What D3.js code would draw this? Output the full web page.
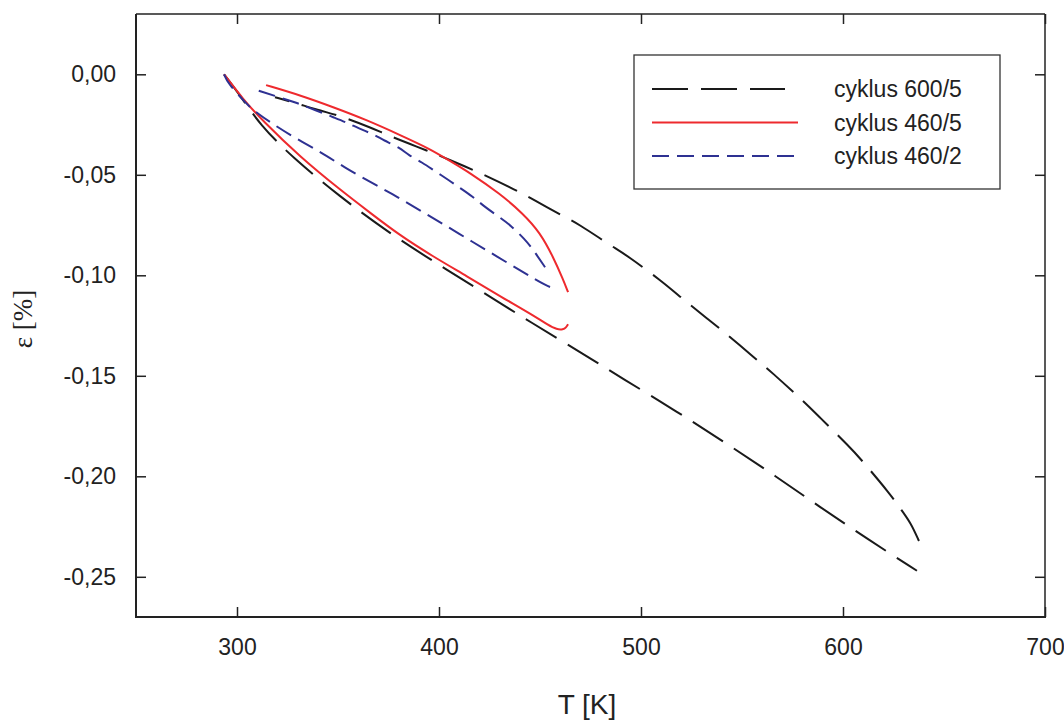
<!DOCTYPE html>
<html><head><meta charset="utf-8">
<script src="https://cdn.jsdelivr.net/npm/d3@7"></script>
<style>body{margin:0;background:#fff}svg{display:block}</style>
</head><body>
<svg id="c" width="1064" height="721"></svg>
<script>
// ---- data (T [K], epsilon [%]) ----
const seriesNames = ["cyklus 600/5", "cyklus 460/5", "cyklus 460/2"];
const xTicks = [300, 400, 500, 600, 700];
const yTicks = [0, -0.05, -0.10, -0.15, -0.20, -0.25];

const black600Heat = [[293.6,0],[301.5,-0.0104],[311.4,-0.0252],[327.2,-0.0411],[351.0,-0.0609],[374.3,-0.0782],[398.0,-0.0936],[421.8,-0.1084],[446.0,-0.1238],[469.8,-0.1381],[491.1,-0.1515],[517.8,-0.1678],[541.6,-0.1832],[565.3,-0.1990],[588.6,-0.2153],[612.9,-0.2317],[636.6,-0.2470]];
const black600Cool = [[637.6,-0.2322],[633.5,-0.2230],[628.2,-0.2158],[623.8,-0.2094],[609.4,-0.1921],[603.5,-0.1856],[587.1,-0.1693],[580.7,-0.1629],[563.9,-0.1475],[557.4,-0.1421],[540.6,-0.1277],[533.7,-0.1223],[520.8,-0.1119],[510.4,-0.1030],[493.1,-0.0901],[485.6,-0.0856],[468.8,-0.0743],[461.9,-0.0708],[445.0,-0.0614],[438.6,-0.0579],[421.3,-0.0495],[414.4,-0.0465],[397.0,-0.0391],[390.6,-0.0366],[374.3,-0.0302],[366.8,-0.0267],[350.0,-0.0203],[342.6,-0.0185],[327.7,-0.0139],[318.8,-0.0114]];

const red460Heat = [[293.6,0],[303.0,-0.0124],[312.4,-0.0228],[331.2,-0.0411],[351.0,-0.0574],[365.8,-0.0688],[380.7,-0.0802],[397.0,-0.0906],[413.9,-0.1005],[430.2,-0.1104],[446.5,-0.1198],[454.0,-0.1248],[458.4,-0.1270],[461.4,-0.1270],[462.9,-0.1260],[463.9,-0.1243]];
const red460Cool = [[463.9,-0.1084],[461.4,-0.1020],[456.4,-0.0906],[450.0,-0.0787],[441.6,-0.0693],[430.2,-0.0594],[415.3,-0.0490],[405.4,-0.0431],[395.5,-0.0371],[380.7,-0.0302],[364.4,-0.0228],[347.5,-0.0163],[331.2,-0.0104],[314.4,-0.0054]];

const blue460Heat = [[293.6,0],[295.5,-0.0045],[304.0,-0.0139],[307.9,-0.0178],[316.3,-0.0238],[328.7,-0.0317],[342.1,-0.0391],[353.5,-0.0465],[366.8,-0.0540],[379.2,-0.0609],[391.6,-0.0683],[404.0,-0.0757],[416.3,-0.0832],[428.7,-0.0906],[441.6,-0.0985],[453.5,-0.1054],[456.4,-0.1064],[458.4,-0.1059]];
const blue460Cool = [[452.5,-0.0960],[446.5,-0.0871],[442.6,-0.0822],[435.1,-0.0748],[430.2,-0.0713],[421.8,-0.0653],[416.8,-0.0609],[409.4,-0.0559],[405.4,-0.0530],[397.0,-0.0475],[392.1,-0.0441],[384.7,-0.0401],[380.7,-0.0366],[372.3,-0.0327],[368.3,-0.0302],[359.9,-0.0267],[354.9,-0.0243],[347.5,-0.0213],[342.6,-0.0193],[334.7,-0.0163],[330.2,-0.0144],[322.3,-0.0119],[309.9,-0.0079]];

// ---- layout ----
const svg = d3.select("#c");
const L = 136, R = 1045, T = 14, B = 617;
const x = d3.scaleLinear().domain([250, 700]).range([L, R]);
const y = d3.scaleLinear().domain([-0.27, 0.03]).range([B, T]);
const font = "Arial, 'Liberation Sans', sans-serif";
const fmtY = d => d3.format(".2f")(d).replace(".", ",").replace("−", "-");

const styles = [
  {color: "#1a1a1a", dash: "36,13", width: 2},
  {color: "#ee2a2e", dash: null, width: 2},
  {color: "#2e3192", dash: "17,8", width: 2}
];

// axes
const axBottom = svg.append("g").attr("transform", `translate(0,${B})`)
  .call(d3.axisBottom(x).tickValues(xTicks).tickSizeInner(-10).tickSizeOuter(0).tickPadding(22).tickFormat(d3.format("d")));
const axTop = svg.append("g").attr("transform", `translate(0,${T})`)
  .call(d3.axisTop(x).tickValues(xTicks).tickSizeInner(-10).tickSizeOuter(0).tickFormat(""));
const axLeft = svg.append("g").attr("transform", `translate(${L},0)`)
  .call(d3.axisLeft(y).tickValues(yTicks).tickSizeInner(-10).tickSizeOuter(0).tickPadding(20).tickFormat(fmtY));
const axRight = svg.append("g").attr("transform", `translate(${R},0)`)
  .call(d3.axisRight(y).tickValues(yTicks).tickSizeInner(-10).tickSizeOuter(0).tickFormat(""));

[axBottom, axTop, axLeft, axRight].forEach(g => {
  g.selectAll(".domain").remove();
  g.selectAll(".tick line").attr("stroke", "#222").attr("stroke-width", 1.5);
  g.selectAll("text").attr("font-family", font).attr("font-size", 23).attr("fill", "#222");
});

// frame
svg.append("line").attr("x1", L).attr("x2", R).attr("y1", T).attr("y2", T).attr("stroke", "#222").attr("stroke-width", 1.5);
svg.append("line").attr("x1", R).attr("x2", R).attr("y1", T).attr("y2", B).attr("stroke", "#222").attr("stroke-width", 1.5);
svg.append("line").attr("x1", L).attr("x2", L).attr("y1", T).attr("y2", B + 1).attr("stroke", "#222").attr("stroke-width", 2);
svg.append("line").attr("x1", L - 1).attr("x2", R + 1).attr("y1", B).attr("y2", B).attr("stroke", "#222").attr("stroke-width", 2.2);

// curves
const line = d3.line().x(d => x(d[0])).y(d => y(d[1])).curve(d3.curveBasis);
const groups = [[black600Heat, black600Cool], [red460Heat, red460Cool], [blue460Heat, blue460Cool]];
const plot = svg.append("g");
groups.forEach((segs, i) => {
  segs.forEach(seg => {
    plot.append("path").datum(seg).attr("d", line)
      .attr("fill", "none").attr("stroke", styles[i].color)
      .attr("stroke-width", styles[i].width)
      .attr("stroke-dasharray", styles[i].dash)
      .attr("stroke-linejoin", "round");
  });
});

// legend
const lg = svg.append("g");
lg.append("rect").attr("x", 634).attr("y", 55).attr("width", 366).attr("height", 134)
  .attr("fill", "#fff").attr("stroke", "#333").attr("stroke-width", 1.3);
seriesNames.forEach((name, i) => {
  const yy = 89 + i * 33.5;
  lg.append("line").attr("x1", 652).attr("x2", i === 0 ? 785 : 798).attr("y1", yy).attr("y2", yy)
    .attr("stroke", styles[i].color).attr("stroke-width", 2)
    .attr("stroke-dasharray", styles[i].dash);
  lg.append("text").attr("x", 834).attr("y", yy).attr("dy", "0.36em")
    .attr("font-family", font).attr("font-size", 23).attr("fill", "#222").text(name);
});

// axis titles
svg.append("text").attr("x", 587).attr("y", 714).attr("text-anchor", "middle")
  .attr("font-family", font).attr("font-size", 28).attr("fill", "#222").text("T [K]");
svg.append("text").attr("transform", "translate(32,319) rotate(-90)").attr("text-anchor", "middle")
  .attr("font-family", "'Liberation Serif', 'Times New Roman', serif").attr("font-size", 27).attr("fill", "#222").text("ε [%]");
</script>
</body></html>
